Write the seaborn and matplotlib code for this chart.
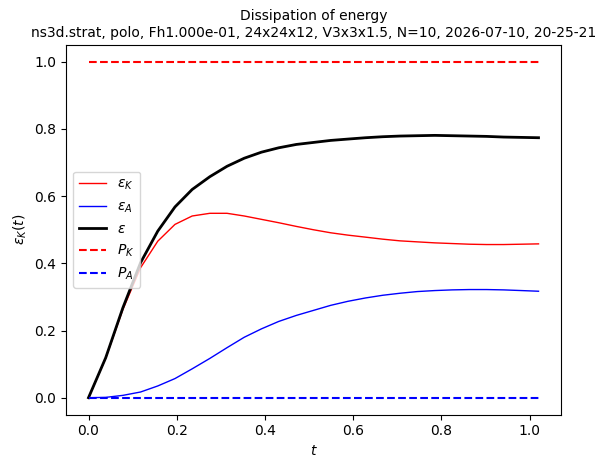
import numpy as np
import pandas as pd
import matplotlib
matplotlib.use("Agg")
import matplotlib.pyplot as plt
import seaborn as sns

# Zeitpunkte der Ausgabe
times = [0.0, 0.039, 0.078, 0.118, 0.157, 0.196, 0.235, 0.275, 0.314, 0.353,
         0.392, 0.431, 0.471, 0.510, 0.549, 0.588, 0.628, 0.667, 0.706, 0.745,
         0.785, 0.824, 0.863, 0.902, 0.941, 0.981, 1.02]

# Dissipation kinetisch / potentiell / gesamt
eps_K = [0.0, 0.118, 0.263, 0.387, 0.466, 0.516, 0.541, 0.549, 0.549, 0.541,
         0.531, 0.521, 0.510, 0.500, 0.491, 0.484, 0.478, 0.472, 0.467, 0.464,
         0.461, 0.459, 0.457, 0.456, 0.456, 0.457, 0.458]
eps_A = [0.0, 0.001, 0.007, 0.017, 0.035, 0.057, 0.086, 0.117, 0.149, 0.180,
         0.205, 0.227, 0.245, 0.260, 0.275, 0.287, 0.297, 0.305, 0.311, 0.316,
         0.319, 0.321, 0.322, 0.322, 0.321, 0.319, 0.317]
eps_tot = [0.0, 0.119, 0.268, 0.402, 0.496, 0.568, 0.620, 0.658, 0.689, 0.713,
           0.731, 0.744, 0.754, 0.760, 0.766, 0.770, 0.774, 0.777, 0.779, 0.780,
           0.781, 0.780, 0.779, 0.778, 0.776, 0.775, 0.774]

# Forcing-Leistung (konstant)
P_K_value = 1.0
P_A_value = 0.0

title = ("Dissipation of energy\n"
         "ns3d.strat, polo, Fh1.000e-01, 24x24x12, V3x3x1.5, N=10, 2026-07-10, 20-25-21")

df = pd.DataFrame({"t": times, "eps_K": eps_K, "eps_A": eps_A, "eps": eps_tot})
df["P_K"] = P_K_value
df["P_A"] = P_A_value

fig, ax = plt.subplots(figsize=(6.05, 4.68), dpi=100)
fig.subplots_adjust(left=0.1091, right=0.9273, top=0.9038, bottom=0.1143)

sns.lineplot(data=df, x="t", y="eps_K", ax=ax, color="r", linewidth=1, label=r"$\varepsilon_K$")
sns.lineplot(data=df, x="t", y="eps_A", ax=ax, color="b", linewidth=1, label=r"$\varepsilon_A$")
sns.lineplot(data=df, x="t", y="eps", ax=ax, color="k", linewidth=2, label=r"$\varepsilon$")
sns.lineplot(data=df, x="t", y="P_K", ax=ax, color="r", linestyle="--", linewidth=1.5, label=r"$P_K$")
sns.lineplot(data=df, x="t", y="P_A", ax=ax, color="b", linestyle="--", linewidth=1.5, label=r"$P_A$")

ax.set_xlabel(r"$t$")
ax.set_ylabel(r"$\varepsilon_K(t)$")
ax.set_title(title, fontsize=10)
ax.legend(loc="center left")

fig.savefig("out.png", dpi=100)
